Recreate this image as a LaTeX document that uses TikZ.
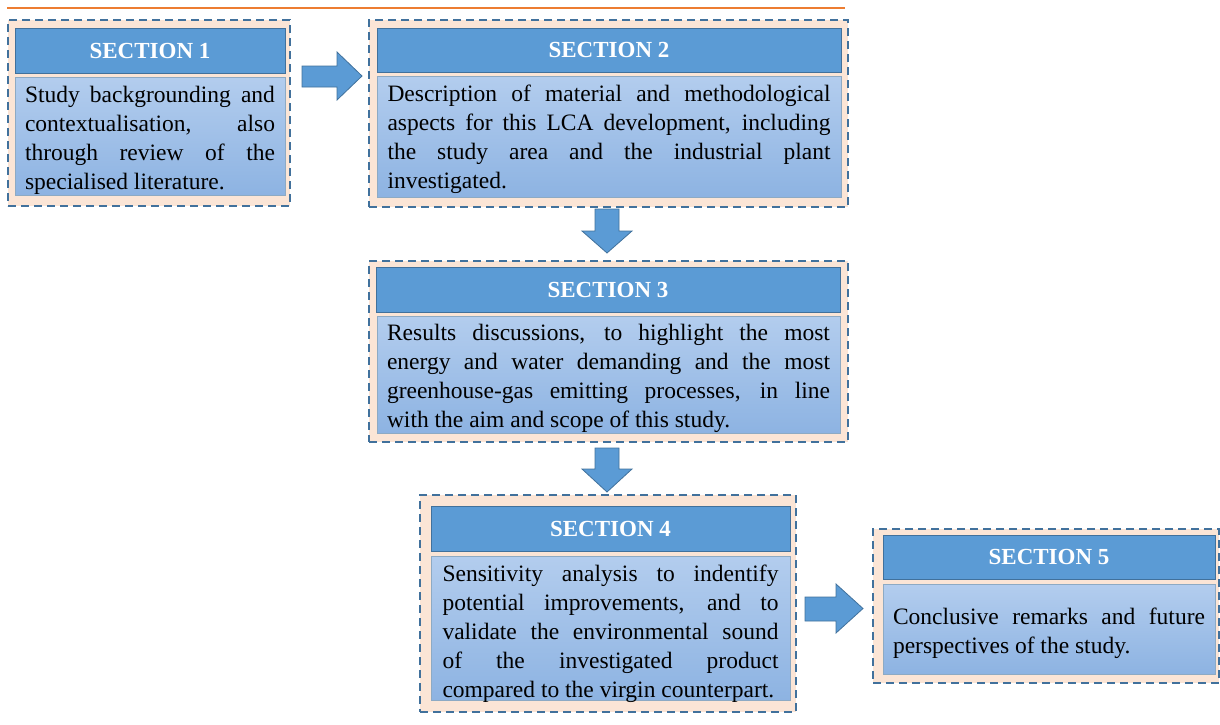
\documentclass[tikz,border=0pt]{standalone}
\usepackage{fontspec}
\setmainfont{Liberation Serif}
\definecolor{hdr}{HTML}{5B9BD5}
\definecolor{bdr}{HTML}{41719C}
\definecolor{peach}{HTML}{FBE5D6}
\definecolor{btop}{HTML}{B3CDEE}
\definecolor{bbot}{HTML}{8DB3E2}
\definecolor{orng}{HTML}{ED7D31}
\newcommand\bodyfontsetup{\fontsize{23.5}{29}\selectfont
  \spaceskip=0.25em plus 0.8em minus 0pt\relax
  \hyphenpenalty=10000\relax\exhyphenpenalty=10000\relax
  \tolerance=9999\relax\emergencystretch=20pt\relax}
\begin{document}
\begin{tikzpicture}[x=1pt,y=-1pt,
  outerbox/.style={draw=bdr, fill=peach, line width=2.3pt, dash pattern=on 8pt off 5pt, inner sep=0pt, outer sep=0pt},
  hdrbox/.style={draw=bdr, fill=hdr, line width=0.8pt, text=white, inner sep=0pt, outer sep=0pt,
    font=\fontsize{23}{26}\selectfont\bfseries},
  bodybox/.style={draw=bdr!60, top color=btop, bottom color=bbot, line width=0.8pt, inner sep=0pt, outer sep=0pt},
  bodytext/.style={text width=#1, align=justify, inner sep=0pt, font=\bodyfontsetup},
  blockarrow/.style={draw=bdr, fill=hdr, line width=0.8pt, line join=miter}]
\useasboundingbox (0,0) rectangle (1220,724);

% top rule
\coordinate (tl) at (7,8);
\coordinate (tr) at (845,8);
\draw[orng, line width=2.8pt] (tl) -- (tr);

% SECTION 1
\node[outerbox, minimum width=282pt, minimum height=186pt] (s1o) at (149,113) {};
\node[hdrbox, minimum width=270pt, minimum height=45pt] (s1h) at (150,50.5) {SECTION 1};
\node[bodybox, minimum width=270pt, minimum height=118pt] (s1b) at (150,136) {};
\node[bodytext=250pt] (s1t) at ([yshift=-4pt]s1b.center) {Study backgrounding and contextualisation, also through review of the specialised literature.};

% SECTION 2
\node[outerbox, minimum width=479pt, minimum height=187pt] (s2o) at (608.5,113.5) {};
\node[hdrbox, minimum width=464pt, minimum height=44pt] (s2h) at (609,50) {SECTION 2};
\node[bodybox, minimum width=464pt, minimum height=121pt] (s2b) at (609,136.5) {};
\node[bodytext=443pt] (s2t) at ([yshift=-3pt]s2b.center) {Description of material and methodological aspects for this LCA development, including the study area and the industrial plant investigated.};

% SECTION 3
\node[outerbox, minimum width=479pt, minimum height=181pt] (s3o) at (608.5,351.5) {};
\node[hdrbox, minimum width=464pt, minimum height=45pt] (s3h) at (608,289.5) {SECTION 3};
\node[bodybox, minimum width=463pt, minimum height=117pt] (s3b) at (608.5,374.5) {};
\node[bodytext=443pt] (s3t) at ([yshift=-4pt]s3b.center) {Results discussions, to highlight the most energy and water demanding and the most greenhouse-gas emitting processes, in line with the aim and scope of this study.};

% SECTION 4
\node[outerbox, minimum width=376pt, minimum height=217pt] (s4o) at (608,603.5) {};
\node[hdrbox, minimum width=359pt, minimum height=45pt] (s4h) at (610.5,528.5) {SECTION 4};
\node[bodybox, minimum width=359pt, minimum height=144pt] (s4b) at (610.5,628) {};
\node[bodytext=336pt] (s4t) at ([yshift=-6pt]s4b.center) {Sensitivity analysis to indentify potential improvements, and to validate the environmental sound of the investigated product compared to the virgin counterpart.};

% SECTION 5
\node[outerbox, minimum width=346pt, minimum height=154pt] (s5o) at (1046,606) {};
\node[hdrbox, minimum width=332pt, minimum height=44pt] (s5h) at (1049,557) {SECTION 5};
\node[bodybox, minimum width=332pt, minimum height=90pt] (s5b) at (1049,629) {};
\node[bodytext=312pt] (s5t) at ([yshift=-4pt]s5b.center) {Conclusive remarks and future perspectives of the study.};

% block arrows
% 1 -> 2
\draw[blockarrow] (302,66) -- (337,66) -- (337,52) -- (362,76) -- (337,100) -- (337,87) -- (302,87) -- cycle;
% 2 -> 3
\draw[blockarrow] (595,209) -- (619,209) -- (619,231) -- (632,231) -- (607,253) -- (582,231) -- (595,231) -- cycle;
% 3 -> 4
\draw[blockarrow] (595,448) -- (619,448) -- (619,469) -- (632,469) -- (607,492) -- (582,469) -- (595,469) -- cycle;
% 4 -> 5
\draw[blockarrow] (805,597) -- (836,597) -- (836,584) -- (863,608.5) -- (836,633) -- (836,621) -- (805,621) -- cycle;
\end{tikzpicture}
\end{document}
